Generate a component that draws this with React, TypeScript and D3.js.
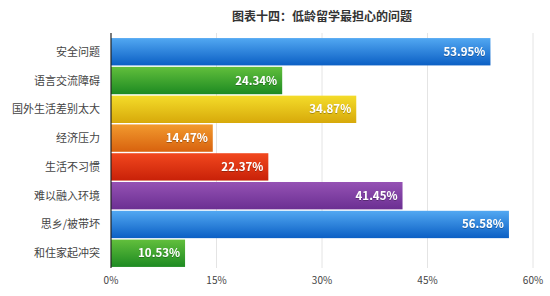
import React from "react";
import * as d3 from "d3";

const title = "图表十四：低龄留学最担心的问题";
const categories = ["安全问题", "语言交流障碍", "国外生活差别太大", "经济压力", "生活不习惯", "难以融入环境", "思乡/被带坏", "和住家起冲突"];
const values = [53.95, 24.34, 34.87, 14.47, 22.37, 41.45, 56.58, 10.53];
const ticks = [0, 15, 30, 45, 60];
const colorTop = ["#52a8f2", "#62bf3c", "#f4dc2a", "#f29a2e", "#f2481e", "#9552b4", "#52a8f2", "#62bf3c"];
const colorBot = ["#0b5fc4", "#1d8a22", "#d7a90a", "#d8620e", "#c82108", "#6b2f92", "#0b5fc4", "#1d8a22"];

export default function App() {
  const W = 550, H = 296;
  const x = d3.scaleLinear().domain([0, 60]).range([111, 533]);
  const y = d3.scaleBand<string>().domain(categories).range([37.5, 267.5]).paddingInner(0.05).paddingOuter(0.02);
  const font = "'Noto Sans CJK SC', 'Noto Sans', sans-serif";
  return (
    <svg width={W} height={H} style={{ position: "absolute", left: 0, top: 0, background: "#fff" }} fontFamily={font}>
      <defs>
        {categories.map((c, i) => (
          <linearGradient key={i} id={`g${i}`} x1="0" y1="0" x2="0" y2="1">
            <stop offset="0" stopColor={colorTop[i]} />
            <stop offset="1" stopColor={colorBot[i]} />
          </linearGradient>
        ))}
        <filter id="sh" x="-10%" y="-30%" width="120%" height="160%">
          <feDropShadow dx="0" dy="0.6" stdDeviation="0.5" floodColor="#000" floodOpacity="0.45" />
        </filter>
      </defs>
      <text x={322} y={21} textAnchor="middle" fontSize={12} fontWeight="bold" fill="#333">{title}</text>
      {ticks.slice(1).map((t) => (
        <line key={t} x1={x(t)} x2={x(t)} y1={33} y2={268} stroke="#e4e4e4" strokeWidth={1} />
      ))}
      {categories.map((c, i) => {
        const yy = y(c)!;
        const bw = y.bandwidth();
        return (
          <g key={c}>
            <rect x={x(0)} y={yy} width={x(values[i]) - x(0)} height={bw} fill={`url(#g${i})`} />
            <text x={100} y={yy + bw / 2 + 4} textAnchor="end" fontSize={11} fill="#444">{c}</text>
            <text x={x(values[i]) - 5} y={yy + bw / 2 + 4} textAnchor="end" fontSize={11.5} fontWeight="bold" fill="#fff" filter="url(#sh)">{values[i].toFixed(2)}%</text>
          </g>
        );
      })}
      <line x1={x(0)} x2={x(0)} y1={33} y2={268} stroke="#222" strokeWidth={1.2} />
      {ticks.map((t) => (
        <text key={t} x={x(t)} y={284} textAnchor="middle" fontSize={10} fill="#444">{t}%</text>
      ))}
    </svg>
  );
}
